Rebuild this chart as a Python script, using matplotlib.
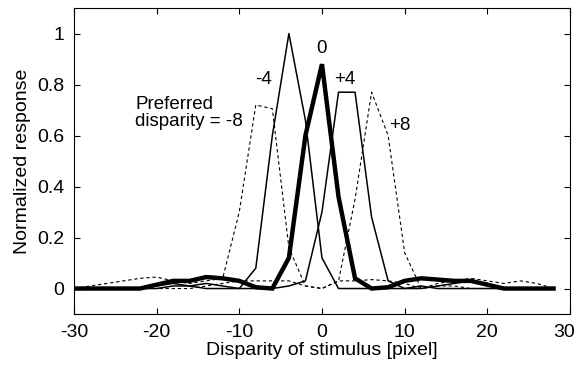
import matplotlib.pyplot as plt
import matplotlib.transforms as mtransforms

plt.rcParams['font.family'] = ['Liberation Sans', 'DejaVu Sans']
plt.rcParams['axes.unicode_minus'] = False

# disparity of stimulus, sampled every 2 pixels
x = list(range(-30, 30, 2))

# normalized responses for each preferred disparity
resp_m8 = [0, 0.01, 0.02, 0.03, 0.04, 0.045, 0.03, 0.02, 0.03, 0.04, 0.3, 0.72, 0.705, 0.16, 0.01,
           0.0, 0.03, 0.03, 0.035, 0.03, 0.02, 0.0, 0.01, 0.01, 0.0, 0.0, 0.0, 0.0, 0.0, 0.0]
resp_m4 = [0, 0, 0, 0, 0, 0.01, 0.02, 0.01, 0.02, 0.01, 0.0, 0.08, 0.6, 1.0, 0.66,
           0.12, 0.0, 0.0, 0.0, 0.0, 0.0, 0.01, 0.0, 0.0, 0.0, 0.0, 0.0, 0.0, 0.0, 0.0]
resp_0 = [0, 0, 0, 0, 0, 0.015, 0.03, 0.03, 0.045, 0.04, 0.03, 0.005, 0.0, 0.12, 0.6,
          0.88, 0.36, 0.04, 0.0, 0.005, 0.03, 0.04, 0.035, 0.03, 0.03, 0.015, 0, 0, 0, 0]
resp_p4 = [0, 0, 0, 0, 0, 0, 0.01, 0.01, 0.0, 0.0, 0.0, 0.0, 0.0, 0.01, 0.03,
           0.3, 0.77, 0.77, 0.28, 0.03, 0.0, 0.0, 0.01, 0.02, 0.03, 0.02, 0.0, 0.0, 0.0, 0.0]
resp_p8 = [0, 0, 0, 0, 0, 0, 0, 0.0, 0.01, 0.02, 0.03, 0.03, 0.03, 0.03, 0.01,
           0.0, 0.03, 0.35, 0.77, 0.6, 0.14, 0.0, 0.02, 0.03, 0.04, 0.03, 0.02, 0.03, 0.02, 0.0]

fig = plt.figure(figsize=(5.77, 3.66), dpi=100)
ax = fig.add_axes([0.128, 0.142, 0.86, 0.836])

ax.plot(x, resp_m8, color='black', lw=0.8, dashes=(3, 2.5))
ax.plot(x, resp_p8, color='black', lw=0.8, dashes=(3, 2.5))
ax.plot(x, resp_m4, color='black', lw=1.1)
ax.plot(x, resp_p4, color='black', lw=1.1)
ax.plot(x, resp_0, color='black', lw=3.2, solid_joinstyle='miter')

fs = 13.5
ax.text(0, 0.94, '0', ha='center', va='center', fontsize=fs)
ax.text(2.8, 0.82, '+4', ha='center', va='center', fontsize=fs)
ax.text(9.4, 0.64, '+8', ha='center', va='center', fontsize=fs)
ax.text(-7.1, 0.82, '-4', ha='center', va='center', fontsize=fs)
ax.text(-22.6, 0.69, 'Preferred\ndisparity = -8', ha='left', va='center',
        fontsize=fs, linespacing=1.0)

ax.set_xlim(-30, 30)
ax.set_ylim(-0.1, 1.1)
ax.set_xticks([-30, -20, -10, 0, 10, 20, 30])
ax.set_yticks([0, 0.2, 0.4, 0.6, 0.8, 1])
ax.set_yticklabels(['0', '0.2', '0.4', '0.6', '0.8', '1'])
ax.tick_params(direction='in', top=True, right=True, labelsize=14, length=4, pad=7)
ax.set_xlabel('Disparity of stimulus [pixel]', fontsize=14, labelpad=1)
ax.set_ylabel('Normalized response', fontsize=14, labelpad=4)

# last x tick label sits a little inside the figure edge
last = ax.get_xticklabels()[-1]
last.set_transform(last.get_transform() +
                   mtransforms.ScaledTranslation(-6 / 100, 0, fig.dpi_scale_trans))

fig.savefig('out.png', dpi=100)
